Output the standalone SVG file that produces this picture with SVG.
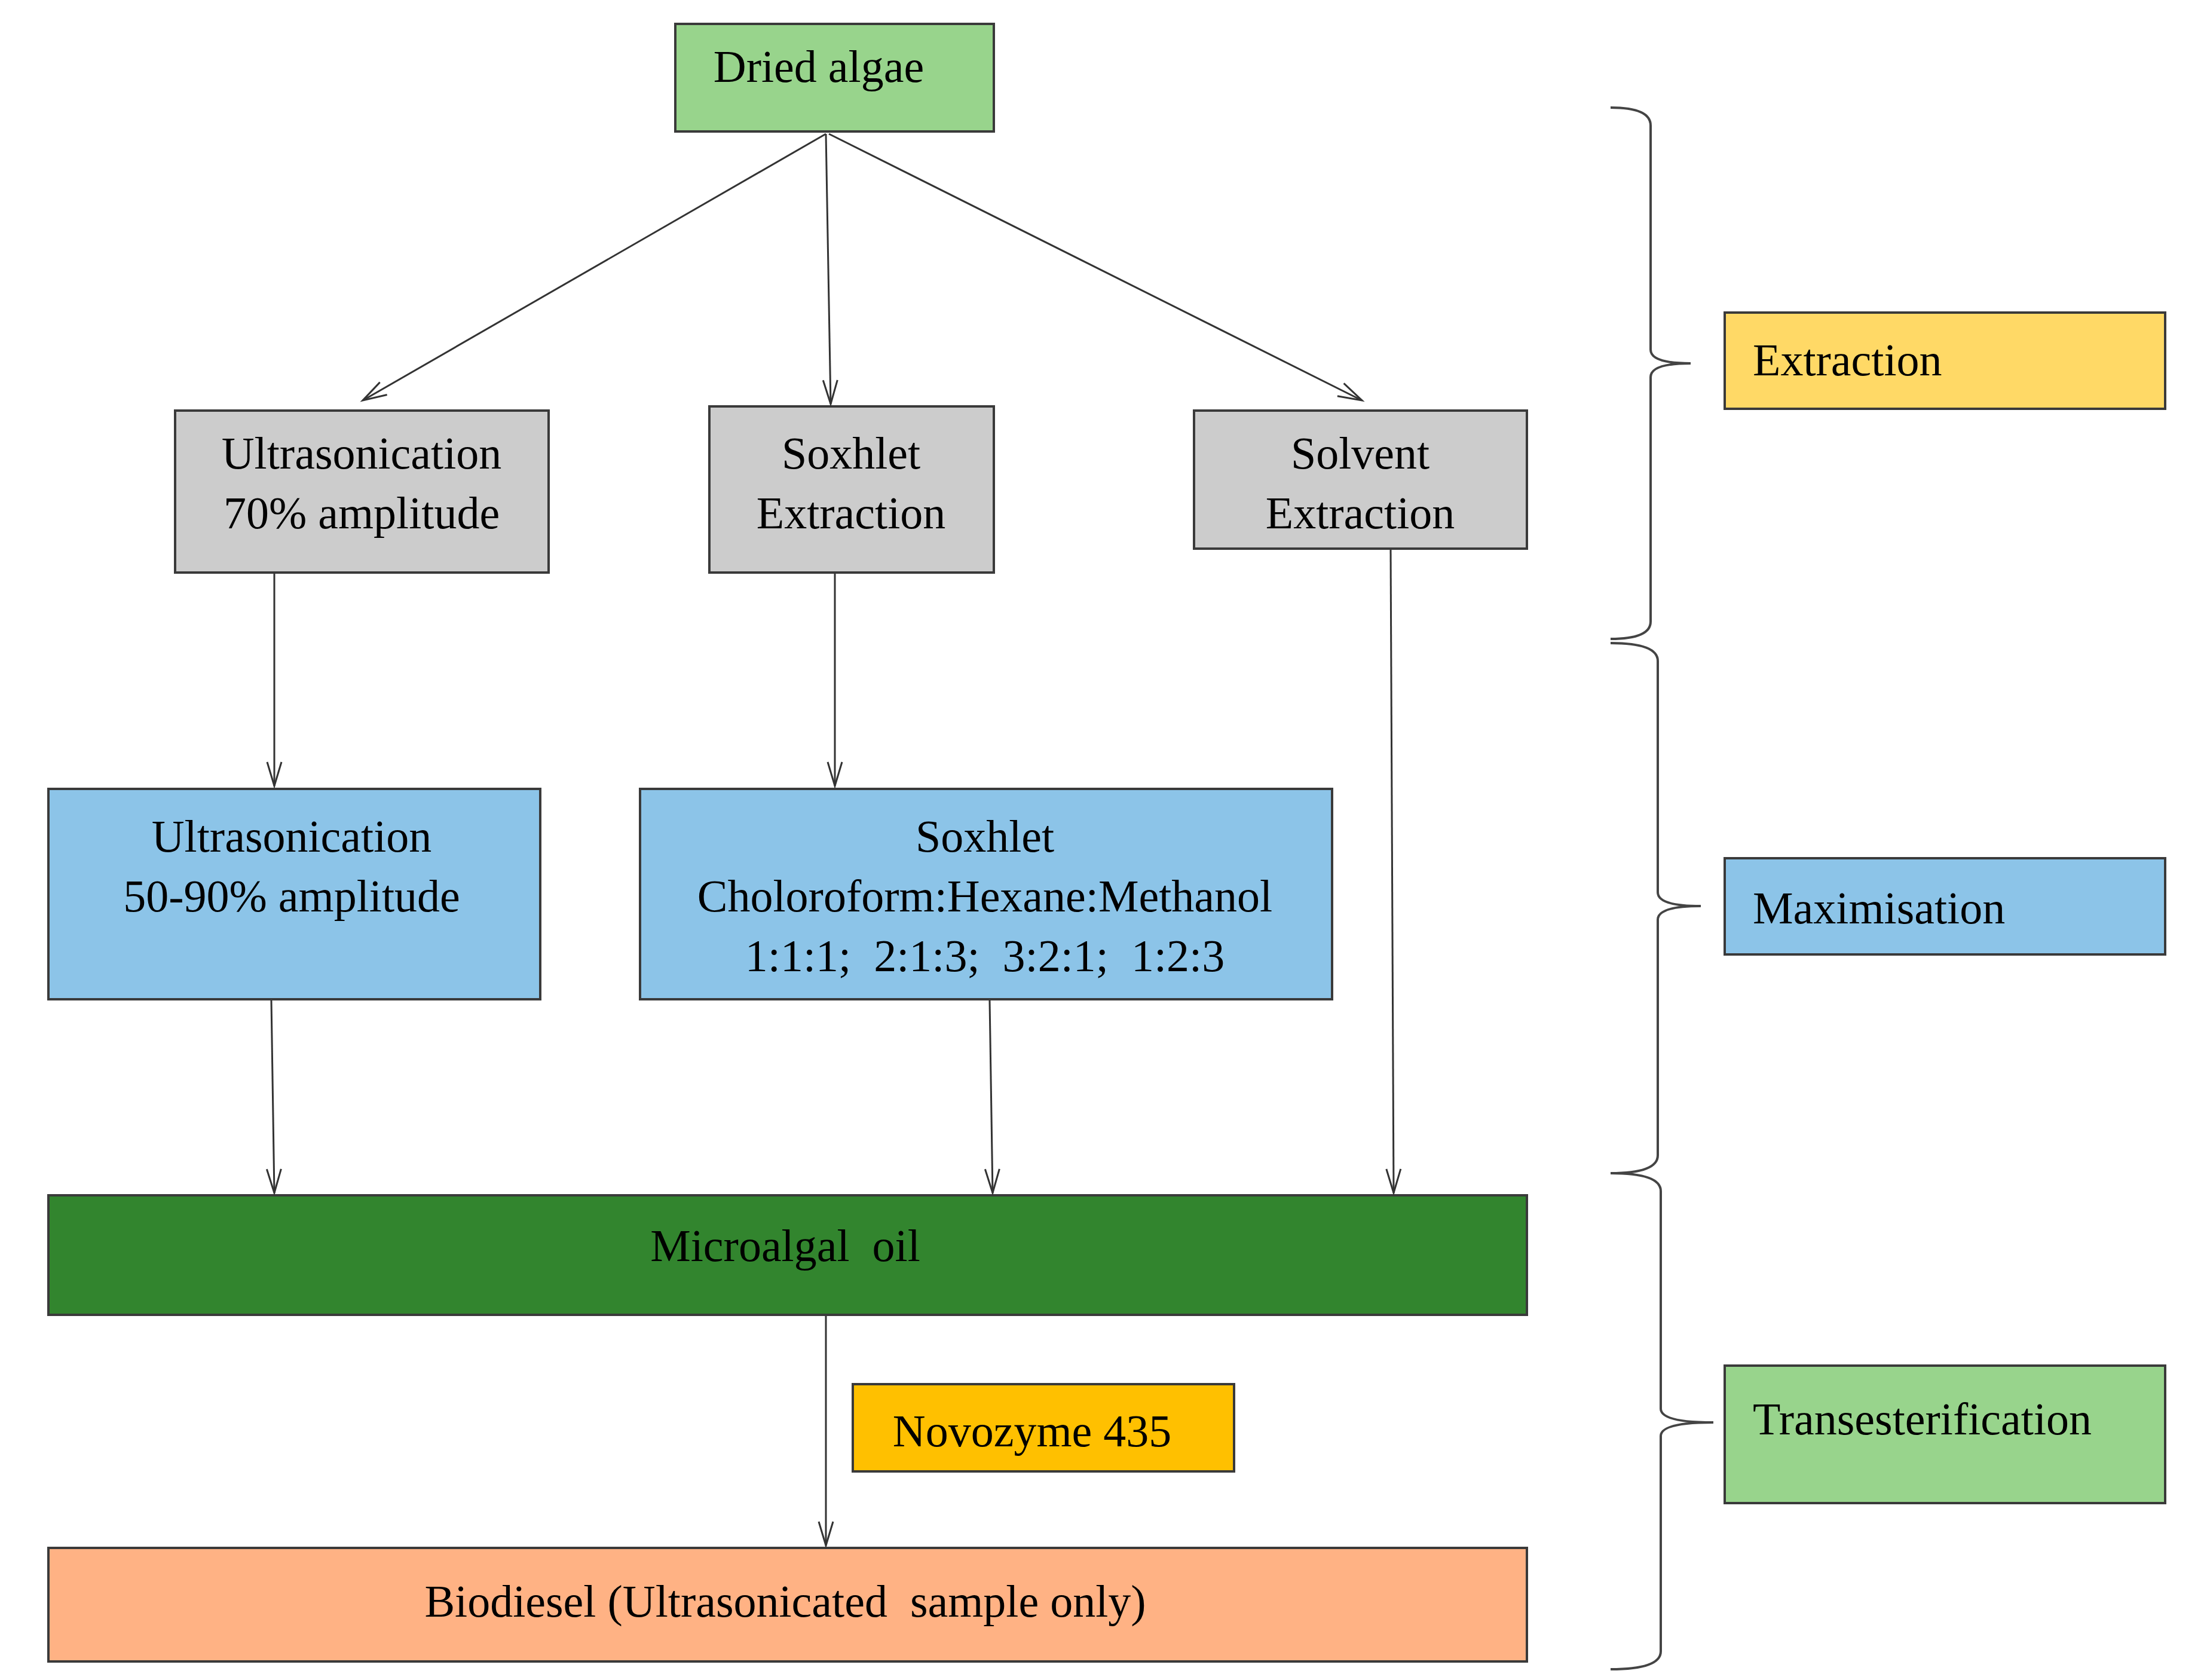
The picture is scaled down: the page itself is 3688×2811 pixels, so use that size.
<svg xmlns="http://www.w3.org/2000/svg" width="3688" height="2811" viewBox="0 0 3688 2811">
<style>
.b{stroke:#3a3a3a;stroke-width:4}
.t{font-family:"Liberation Serif",serif;font-size:76px;fill:#000;text-anchor:middle}
.l{text-anchor:start}
.c{stroke:#333;stroke-width:3;fill:none}
.br{stroke:#444;stroke-width:4;fill:none}
</style>
<defs>
<marker id="a" viewBox="0 0 20 20" refX="10" refY="18" markerWidth="20" markerHeight="20" markerUnits="userSpaceOnUse" orient="auto-start-reverse" overflow="visible">
<polyline points="-2,-22 10,18 22,-22" fill="none" stroke="#333" stroke-width="3" transform="rotate(-90 10 18)"/>
</marker>
</defs>
<g id="n1"><rect class="b" x="1130" y="40" width="533" height="180" fill="#98d48c"/><text class="t" x="1370" y="137">Dried algae</text></g>
<g id="n2"><rect class="b" x="293" y="687" width="625" height="271" fill="#cccccc"/><text class="t" x="605" y="784">Ultrasonication</text><text class="t" x="605" y="884">70% amplitude</text></g>
<g id="n3"><rect class="b" x="1187" y="680" width="476" height="278" fill="#cccccc"/><text class="t" x="1424" y="784">Soxhlet</text><text class="t" x="1424" y="884">Extraction</text></g>
<g id="n4"><rect class="b" x="1998" y="687" width="557" height="231" fill="#cccccc"/><text class="t" x="2276" y="784">Solvent</text><text class="t" x="2276" y="884">Extraction</text></g>
<g id="n5"><rect class="b" x="81" y="1320" width="823" height="352" fill="#8cc4e8"/><text class="t" x="488" y="1425">Ultrasonication</text><text class="t" x="488" y="1525">50-90% amplitude</text></g>
<g id="n6"><rect class="b" x="1071" y="1320" width="1158" height="352" fill="#8cc4e8"/><text class="t" x="1648" y="1425">Soxhlet</text><text class="t" x="1648" y="1525">Choloroform:Hexane:Methanol</text><text class="t" x="1648" y="1625" xml:space="preserve">1:1:1;  2:1:3;  3:2:1;  1:2:3</text></g>
<g id="n7"><rect class="b" x="81" y="2000" width="2474" height="200" fill="#32852e"/><text class="t" x="1314" y="2110" xml:space="preserve">Microalgal  oil</text></g>
<g id="n8"><rect class="b" x="1427" y="2316" width="638" height="146" fill="#ffc000"/><text class="t" x="1727" y="2420">Novozyme 435</text></g>
<g id="n9"><rect class="b" x="81" y="2590" width="2474" height="190" fill="#ffb284"/><text class="t" x="1314" y="2705" xml:space="preserve">Biodiesel (Ultrasonicated  sample only)</text></g>
<g id="n10"><rect class="b" x="2886" y="523" width="737" height="161" fill="#ffd966"/><text class="t l" x="2933" y="628">Extraction</text></g>
<g id="n11"><rect class="b" x="2886" y="1436" width="737" height="161" fill="#8cc4e8"/><text class="t l" x="2933" y="1545">Maximisation</text></g>
<g id="n12"><rect class="b" x="2886" y="2285" width="737" height="230" fill="#98d48c"/><text class="t l" x="2933" y="2400">Transesterification</text></g>
<g id="connectors">
<line class="c" x1="1382" y1="224" x2="607" y2="670" marker-end="url(#a)"/>
<line class="c" x1="1382" y1="224" x2="1390" y2="676" marker-end="url(#a)"/>
<line class="c" x1="1387" y1="224" x2="2279" y2="670" marker-end="url(#a)"/>
<line class="c" x1="459" y1="960" x2="459" y2="1315" marker-end="url(#a)"/>
<line class="c" x1="1397" y1="960" x2="1397" y2="1315" marker-end="url(#a)"/>
<line class="c" x1="2327" y1="920" x2="2332" y2="1996" marker-end="url(#a)"/>
<line class="c" x1="454" y1="1674" x2="459" y2="1996" marker-end="url(#a)"/>
<line class="c" x1="1656" y1="1674" x2="1661" y2="1996" marker-end="url(#a)"/>
<line class="c" x1="1382" y1="2202" x2="1382" y2="2586" marker-end="url(#a)"/>
<path class="br" d="M2695 180 Q2762 180 2762 210 L2762 585 Q2762 608 2829 608 Q2762 608 2762 631 L2762 1040 Q2762 1069 2695 1069"/>
<path class="br" d="M2695 1076 Q2774 1076 2774 1106 L2774 1493 Q2774 1516 2846 1516 Q2774 1516 2774 1539 L2774 1933 Q2774 1963 2695 1963"/>
<path class="br" d="M2695 1963 Q2779 1963 2779 1993 L2779 2357 Q2779 2380 2867 2380 Q2779 2380 2779 2403 L2779 2763 Q2779 2793 2695 2793"/>
</g>
</svg>
